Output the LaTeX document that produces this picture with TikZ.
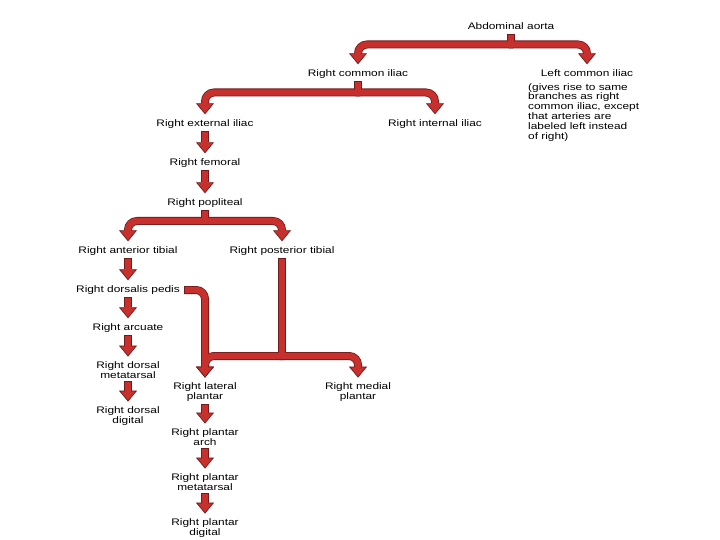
\documentclass[tikz,border=0pt]{standalone}
\usepackage{fontspec}
\setmainfont{Liberation Sans}[FakeStretch=1.25]
\usetikzlibrary{arrows.meta}
\definecolor{bandred}{RGB}{200,48,46}
\definecolor{bandedge}{RGB}{112,28,28}
\newcommand\allbands{%
  \draw[bd]  (aorta.south) -- (j1);
  \draw[bdt] (j1) -| (rci.north);
  \draw[bdt] (j1) -| (lci.north);
  \draw[bd]  (rci.south) -- (j2);
  \draw[bdt] (j2) -| (rei.north);
  \draw[bdt] (j2) -| (rii.north);
  \draw[bdt] (rei.south) -- (rf.north);
  \draw[bdt] (rf.south) -- (rp.north);
  \draw[bd]  (rp.south) -- (j3);
  \draw[bdt] (j3) -| (rat.north);
  \draw[bdt] (j3) -| (rpt.north);
  \draw[bdt] (rat.south) -- (rdp.north);
  \draw[bdt] (rdp.south) -- (ra.north);
  \draw[bdt] (ra.south) -- (rdm.north);
  \draw[bdt] (rdm.south) -- (rdd.north);
  \draw[bdt] (rdp.east) -| (rlp.north);
  \draw[bd]  (rpt.south) -- (j4);
  \draw[bdt] (j4) -| (rlp.north);
  \draw[bdt] (j4) -| (rmp.north);
  \draw[bdt] (rlp.south) -- (rpa.north);
  \draw[bdt] (rpa.south) -- (rpm.north);
  \draw[bdt] (rpm.south) -- (rpd.north);
}
\begin{document}
\begin{tikzpicture}[x=1pt,y=-1pt,
  lbl/.style={font=\fontsize{9.5}{9.5}\selectfont, inner xsep=3pt, inner ysep=5pt, text height=7pt, text depth=2pt},
  lbl2/.style={font=\fontsize{9.5}{9.5}\selectfont, align=center, inner xsep=3pt, inner ysep=5pt}]
\fill[white] (0,0) rectangle (720,540);
\useasboundingbox (0,0) rectangle (720,540);
\node[lbl] (aorta) at (511,27) {Abdominal aorta};
\node[lbl] (rci) at (358,74) {Right common iliac};
\node[lbl] (lci) at (587,74) {Left common iliac};
\node[font=\fontsize{9.5}{9.8}\selectfont, align=left, anchor=north west, inner sep=0pt] (note) at (528,83)
  {(gives rise to same\\branches as right\\common iliac, except\\that arteries are\\labeled left instead\\of right)};
\node[lbl] (rei) at (205,124) {Right external iliac};
\node[lbl] (rii) at (435,124) {Right internal iliac};
\node[lbl] (rf) at (205,163) {Right femoral};
\node[lbl] (rp) at (205,203) {Right popliteal};
\node[lbl] (rat) at (128,251) {Right anterior tibial};
\node[lbl] (rpt) at (282,251) {Right posterior tibial};
\node[lbl, inner xsep=6.5pt] (rdp) at (128,290) {Right dorsalis pedis};
\node[lbl] (ra) at (128,328) {Right arcuate};
\node[lbl2] (rdm) at (128,370) {Right dorsal\\metatarsal};
\node[lbl2] (rdd) at (128,416) {Right dorsal\\digital};
\node[lbl2] (rlp) at (205,392) {Right lateral\\plantar};
\node[lbl2] (rmp) at (358,392) {Right medial\\plantar};
\node[lbl2] (rpa) at (205,437) {Right plantar\\arch};
\node[lbl2] (rpm) at (205,482) {Right plantar\\metatarsal};
\node[lbl2] (rpd) at (205,528) {Right plantar\\digital};
\coordinate (j1) at (511,44.5);
\coordinate (j2) at (358,92.5);
\coordinate (j3) at (205,221);
\coordinate (j4) at (282,356);
\tikzset{
  bd/.style={draw=bandedge, line width=8pt, shorten <=-2.3pt, rounded corners=9pt},
  bdt/.style={bd, -{Triangle[width=18pt,length=11pt,line width=0.7pt,fill=bandred]}}}
\allbands
\tikzset{
  bd/.style={draw=bandred, line width=6.4pt, shorten <=-1.5pt, rounded corners=9pt},
  bdt/.style={bd, shorten >=9pt}}
\allbands
\end{tikzpicture}
\end{document}
